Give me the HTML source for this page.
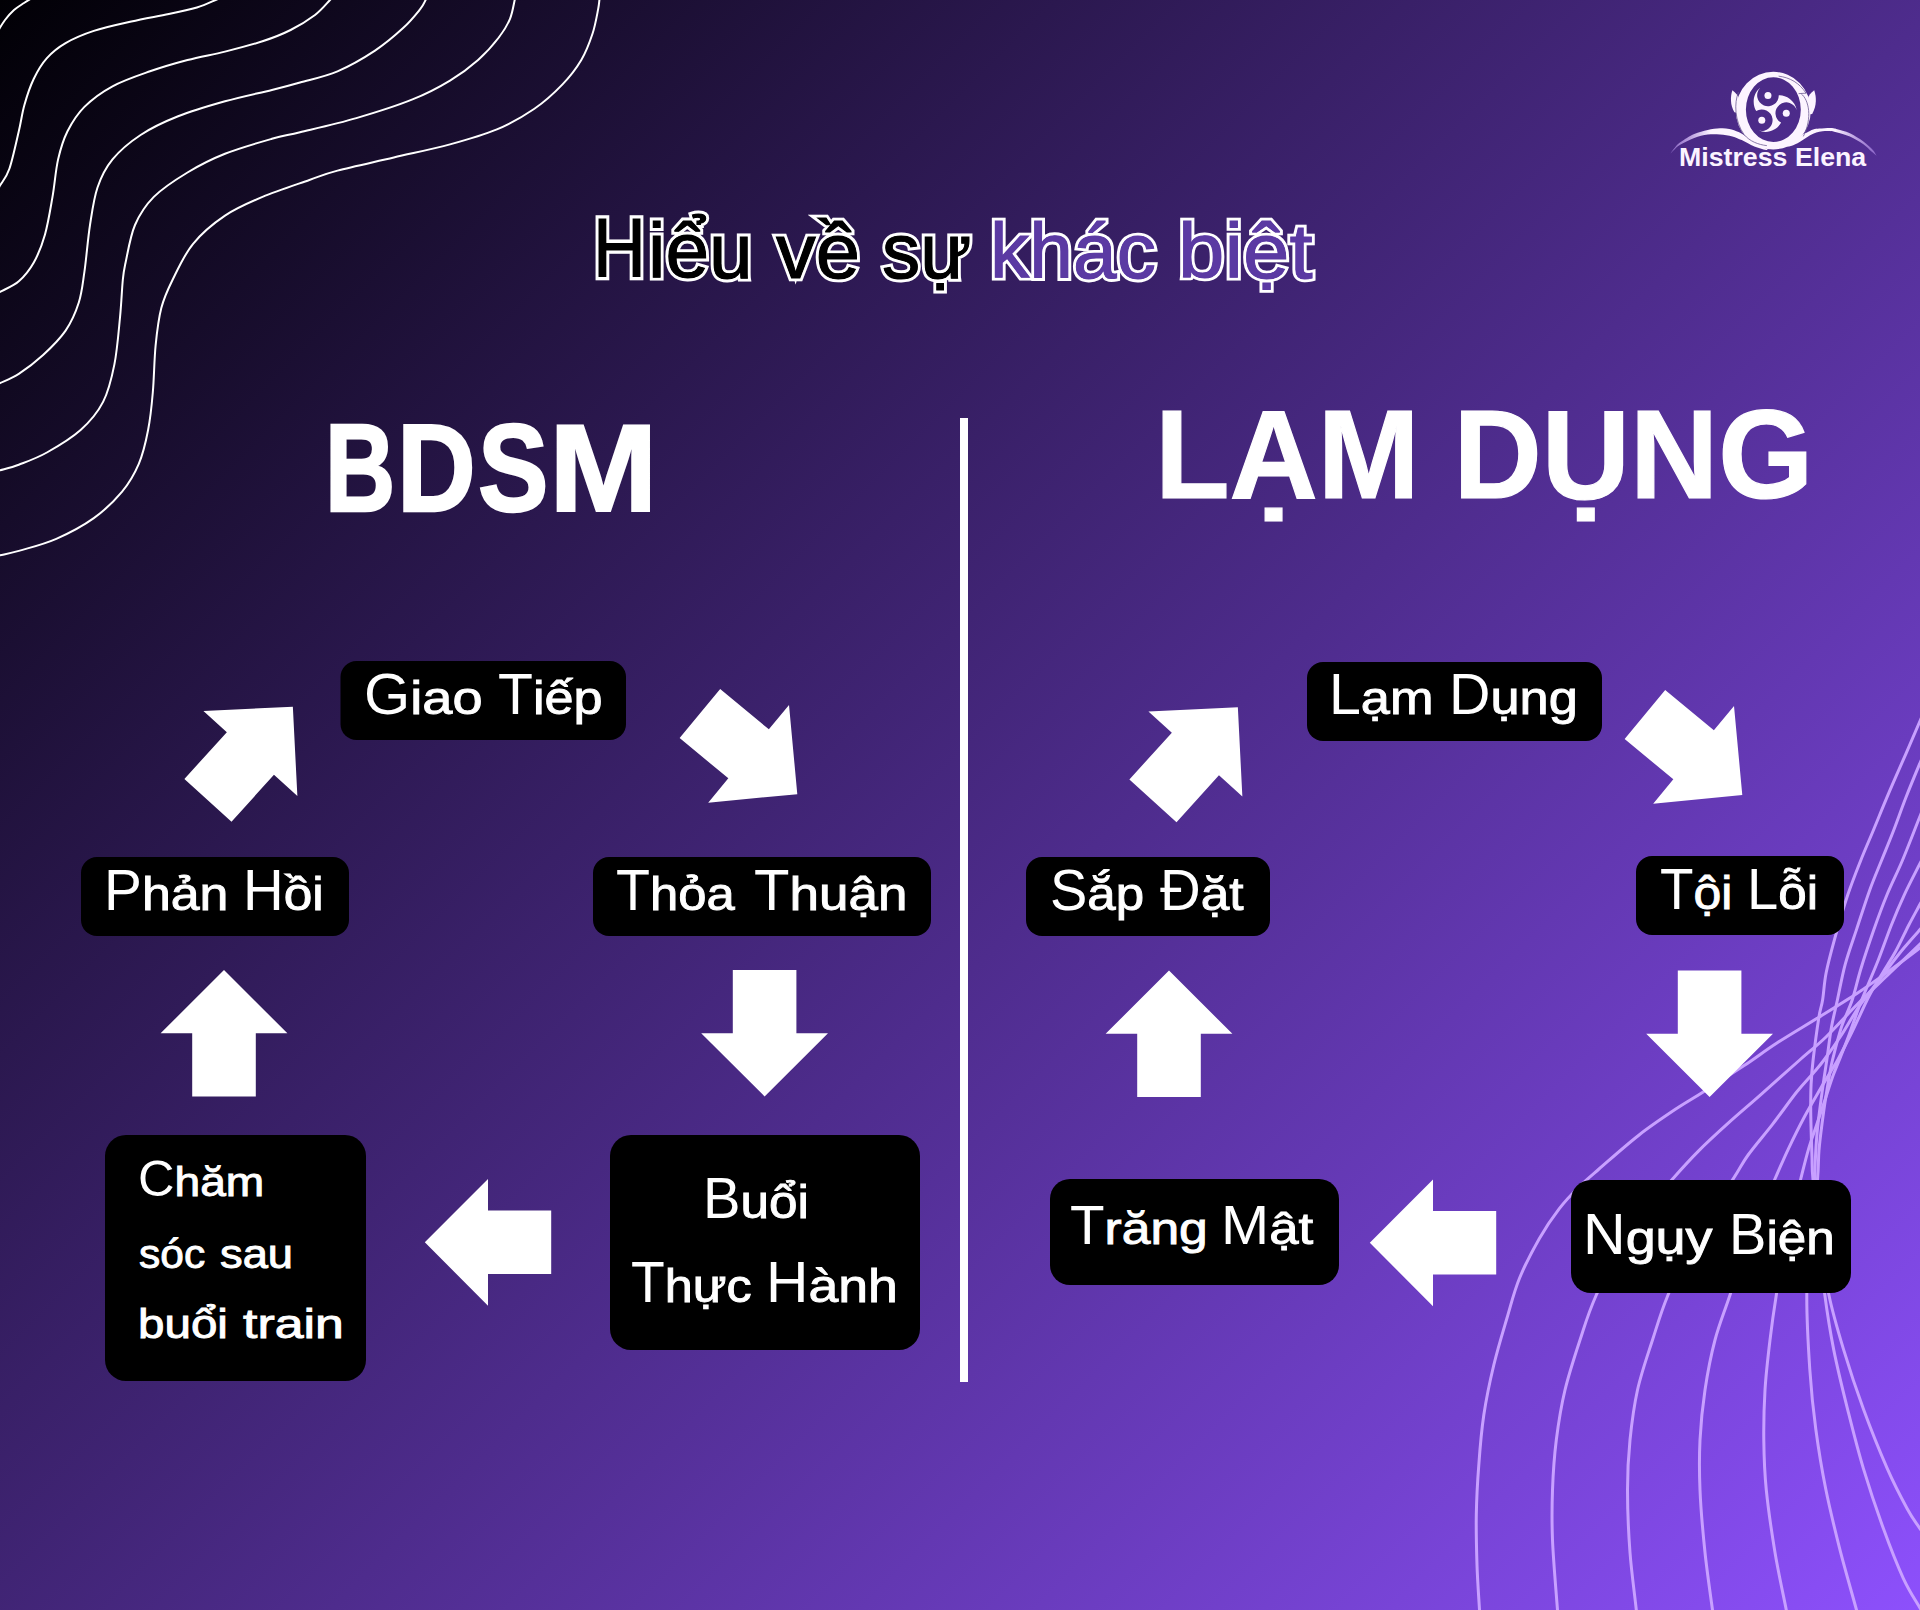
<!DOCTYPE html>
<html lang="vi"><head><meta charset="utf-8"><title>Hiểu về sự khác biệt</title>
<style>
html,body{margin:0;padding:0}
html{background:#2a1650}
body{width:1920px;height:1610px;overflow:hidden;position:relative;font-family:"Liberation Sans",sans-serif}
.canvas{position:absolute;left:0;top:0;width:1920px;height:1610px;overflow:hidden;background:linear-gradient(135deg,#010005 0%,#8d50fc 100%)}
svg{position:absolute;left:0;top:0}
.t{position:absolute;white-space:nowrap;color:#fff;transform-origin:0 0;font-family:"Liberation Sans",sans-serif}
.ub{display:inline-block;vertical-align:baseline}
.ui{display:inline-block;transform-origin:0 0}
.ttl{paint-order:stroke fill}
</style></head><body>
<main class="canvas">
<svg width="1920" height="1610" viewBox="0 0 1920 1610">
<g fill="none" stroke="#fff" stroke-width="2">
<path d="M-2.0,31.0 C-0.8,29.2 2.3,23.5 5.0,20.0 C7.7,16.5 10.8,12.8 14.0,10.0 C17.2,7.2 21.0,5.0 24.0,3.0 C27.0,1.0 30.7,-1.2 32.0,-2.0"/>
<path d="M-3.0,191.0 C-2.5,190.1 -2.1,189.3 0.0,185.6 C2.1,181.9 6.3,177.9 9.4,168.8 C12.5,159.8 16.3,141.9 18.8,131.3 C21.3,120.7 21.9,113.8 24.4,105.0 C26.9,96.2 30.0,86.6 33.8,78.8 C37.5,71.0 41.6,64.0 46.9,58.1 C52.2,52.2 57.8,47.6 65.6,43.1 C73.4,38.6 82.8,34.5 93.8,30.9 C104.8,27.3 118.8,24.4 131.3,21.6 C143.8,18.8 157.9,16.4 168.8,14.1 C179.7,11.8 189.1,9.8 196.9,7.5 C204.7,5.2 211.8,1.6 215.6,0.0 C219.4,-1.6 219.3,-1.7 220.0,-2.0"/>
<path d="M-3.0,294.0 C-2.5,293.7 -3.6,294.1 0.0,292.0 C3.6,289.9 13.2,286.2 18.8,281.3 C24.4,276.4 29.4,270.3 33.8,262.5 C38.2,254.7 41.9,245.3 45.0,234.4 C48.1,223.5 50.3,209.4 52.5,196.9 C54.7,184.4 55.6,170.3 58.1,159.4 C60.6,148.5 63.1,140.1 67.5,131.3 C71.9,122.6 76.9,114.4 84.4,106.9 C91.9,99.4 101.6,92.2 112.5,86.3 C123.4,80.4 137.5,75.7 150.0,71.3 C162.5,66.9 175.0,63.3 187.5,60.0 C200.0,56.7 212.5,54.7 225.0,51.6 C237.5,48.5 251.6,44.9 262.5,41.3 C273.4,37.7 281.9,34.4 290.6,30.0 C299.4,25.6 308.4,20.0 315.0,15.0 C321.6,10.0 327.2,2.8 330.0,0.0 C332.8,-2.8 331.7,-1.7 332.0,-2.0"/>
<path d="M-3.0,384.5 C-2.5,384.3 -3.6,384.9 0.0,383.1 C3.6,381.3 11.6,378.5 18.8,373.8 C26.0,369.1 35.3,362.2 43.1,355.0 C50.9,347.8 59.6,339.4 65.6,330.6 C71.5,321.9 75.7,312.3 78.8,302.5 C81.9,292.7 82.5,284.8 84.4,271.9 C86.3,259.0 87.8,239.1 90.0,225.0 C92.2,210.9 93.8,198.4 97.5,187.5 C101.2,176.6 105.3,168.2 112.5,159.4 C119.7,150.7 129.7,142.2 140.6,135.0 C151.5,127.8 164.0,121.9 178.1,116.3 C192.2,110.7 209.4,105.7 225.0,101.3 C240.6,96.9 259.4,93.1 271.9,90.0 C284.4,86.9 289.1,85.6 300.0,82.5 C310.9,79.4 325.0,76.6 337.5,71.3 C350.0,66.0 364.1,57.8 375.0,50.6 C385.9,43.4 395.6,35.0 403.1,28.1 C410.6,21.2 416.2,14.1 420.0,9.4 C423.8,4.7 424.4,2.1 425.6,0.0 C426.8,-2.1 426.8,-2.5 427.0,-3.0"/>
<path d="M-3.0,471.0 C-2.5,470.9 -3.6,471.4 0.0,470.3 C3.6,469.2 11.0,467.7 18.8,464.7 C26.6,461.7 36.6,458.3 46.9,452.5 C57.2,446.7 71.2,438.4 80.6,430.0 C90.0,421.6 97.5,412.8 103.1,401.9 C108.7,391.0 111.6,378.5 114.4,364.4 C117.2,350.3 118.6,331.6 120.0,317.5 C121.4,303.4 121.9,289.2 122.8,280.0 C123.7,270.8 123.6,271.7 125.6,262.5 C127.6,253.3 130.3,235.9 135.0,225.0 C139.7,214.1 145.1,205.7 153.8,196.9 C162.6,188.2 175.6,179.7 187.5,172.5 C199.4,165.3 210.9,159.4 225.0,153.8 C239.1,148.2 259.4,142.4 271.9,138.8 C284.4,135.2 285.9,135.6 300.0,132.2 C314.1,128.8 337.6,123.6 356.3,118.1 C375.1,112.6 396.9,105.7 412.5,99.4 C428.1,93.2 439.1,87.2 450.0,80.6 C460.9,74.0 470.0,67.2 478.1,60.0 C486.2,52.8 493.5,44.4 498.8,37.5 C504.1,30.6 507.4,25.1 510.0,18.8 C512.6,12.6 513.8,3.6 514.7,0.0 C515.6,-3.6 515.4,-2.5 515.5,-3.0"/>
<path d="M-3.0,556.0 C-2.5,555.9 -3.6,556.1 0.0,555.3 C3.6,554.4 9.4,553.6 18.8,550.9 C28.2,548.1 43.8,544.3 56.3,538.8 C68.8,533.3 82.9,525.9 93.8,518.1 C104.7,510.3 114.4,500.9 121.9,491.9 C129.4,482.8 134.4,474.1 138.8,463.8 C143.2,453.5 145.8,441.9 148.1,430.0 C150.4,418.1 151.6,406.6 152.8,392.5 C154.1,378.4 154.2,359.7 155.6,345.6 C157.0,331.5 158.5,319.0 161.3,308.1 C164.1,297.2 167.2,290.7 172.5,280.0 C177.8,269.3 184.3,254.5 193.1,243.8 C201.8,233.1 213.4,223.4 225.0,215.6 C236.6,207.8 248.4,202.8 262.5,196.9 C276.6,191.0 296.9,184.4 309.4,180.0 C321.9,175.6 323.4,174.3 337.5,170.6 C351.6,166.8 375.1,161.9 393.8,157.5 C412.6,153.1 432.8,149.1 450.0,144.4 C467.2,139.7 482.8,135.3 496.9,129.4 C511.0,123.5 523.5,116.3 534.4,108.8 C545.3,101.3 554.7,92.5 562.5,84.4 C570.3,76.3 576.3,68.4 581.3,60.0 C586.3,51.6 589.7,42.2 592.5,33.8 C595.3,25.4 597.0,15.0 598.1,9.4 C599.2,3.8 599.1,2.1 599.4,0.0 C599.6,-2.1 599.6,-2.5 599.6,-3.0"/>
</g>
<g fill="none" stroke="#c8a0ff" stroke-width="3">
<path d="M1480.5,1630.0 C1480.3,1626.7 1480.1,1620.8 1479.5,1610.0 C1478.9,1599.2 1477.5,1580.8 1477.0,1565.0 C1476.5,1549.2 1476.0,1531.7 1476.3,1515.0 C1476.6,1498.3 1477.5,1481.7 1478.8,1465.0 C1480.0,1448.3 1481.3,1431.7 1483.8,1415.0 C1486.3,1398.3 1489.9,1381.2 1493.8,1365.0 C1497.7,1348.8 1502.7,1332.5 1507.0,1318.0 C1511.3,1303.5 1514.1,1291.5 1519.5,1278.3 C1524.9,1265.0 1532.8,1250.1 1539.4,1238.5 C1546.0,1226.9 1552.7,1217.3 1559.3,1208.7 C1565.9,1200.1 1572.5,1193.4 1579.1,1186.8 C1585.7,1180.2 1589.0,1177.6 1599.0,1169.0 C1609.0,1160.4 1625.5,1145.5 1638.8,1135.2 C1652.0,1124.9 1667.9,1114.4 1678.5,1107.3 C1689.1,1100.2 1691.5,1099.4 1702.4,1092.4 C1713.3,1085.5 1731.7,1073.8 1744.1,1065.6 C1756.5,1057.4 1764.4,1051.1 1776.9,1043.0 C1789.4,1034.9 1805.5,1025.5 1818.9,1017.2 C1832.4,1008.9 1845.8,1000.8 1857.6,993.0 C1869.4,985.2 1879.5,977.9 1889.9,970.4 C1900.3,962.9 1912.5,953.5 1920.0,947.8 C1927.5,942.1 1932.5,938.0 1935.0,936.0"/>
<path d="M1559.0,1630.0 C1558.8,1626.7 1558.6,1625.0 1557.5,1610.0 C1556.4,1595.0 1553.3,1560.0 1552.5,1540.0 C1551.7,1520.0 1551.9,1506.7 1552.5,1490.0 C1553.1,1473.3 1554.2,1456.7 1556.3,1440.0 C1558.4,1423.3 1561.0,1406.7 1565.0,1390.0 C1569.0,1373.3 1574.8,1355.8 1580.0,1340.0 C1585.2,1324.2 1588.0,1313.7 1596.3,1295.0 C1604.6,1276.3 1617.3,1247.3 1630.0,1228.0 C1642.7,1208.7 1661.2,1191.7 1672.6,1178.9 C1684.0,1166.1 1689.1,1160.4 1698.4,1151.1 C1707.7,1141.8 1717.9,1132.5 1728.2,1123.2 C1738.5,1113.9 1748.1,1105.9 1760.0,1095.4 C1771.9,1084.9 1788.7,1069.7 1799.7,1060.0 C1810.7,1050.3 1816.3,1046.3 1826.0,1037.0 C1835.7,1027.7 1846.9,1014.7 1857.6,1004.0 C1868.2,993.3 1879.5,983.0 1889.9,973.0 C1900.3,963.0 1912.5,951.3 1920.0,944.0 C1927.5,936.7 1932.5,931.5 1935.0,929.0"/>
<path d="M1638.0,1630.0 C1637.7,1626.7 1637.6,1622.9 1636.3,1610.0 C1635.0,1597.1 1631.5,1572.5 1630.0,1552.5 C1628.5,1532.5 1627.5,1508.8 1627.5,1490.0 C1627.5,1471.2 1628.3,1456.7 1630.0,1440.0 C1631.7,1423.3 1633.8,1406.7 1637.5,1390.0 C1641.2,1373.3 1647.4,1355.8 1652.5,1340.0 C1657.6,1324.2 1660.8,1312.5 1668.0,1295.0 C1675.2,1277.5 1685.1,1254.3 1696.0,1235.0 C1706.9,1215.7 1724.5,1192.2 1733.2,1178.9 C1741.9,1165.6 1741.6,1164.0 1748.1,1155.0 C1754.6,1146.0 1764.2,1135.0 1772.3,1124.6 C1780.4,1114.1 1789.8,1100.8 1796.5,1092.3 C1803.2,1083.8 1808.1,1079.1 1812.7,1073.7 C1817.3,1068.3 1819.2,1066.5 1824.0,1060.0 C1828.8,1053.5 1835.8,1043.7 1841.5,1035.0 C1847.2,1026.3 1852.8,1015.8 1858.0,1008.0 C1863.2,1000.2 1867.8,994.8 1873.0,988.0 C1878.2,981.2 1883.8,973.8 1889.0,967.0 C1894.2,960.2 1899.1,953.7 1904.3,947.5 C1909.5,941.3 1915.0,935.2 1920.0,929.6 C1925.0,924.0 1931.7,916.6 1934.0,914.0"/>
<path d="M1715.0,1630.0 C1714.6,1626.7 1714.2,1622.9 1712.5,1610.0 C1710.8,1597.1 1707.1,1572.5 1705.0,1552.5 C1702.9,1532.5 1700.8,1508.8 1700.0,1490.0 C1699.2,1471.2 1699.2,1456.7 1700.0,1440.0 C1700.8,1423.3 1702.5,1406.7 1705.0,1390.0 C1707.5,1373.3 1710.8,1355.8 1715.0,1340.0 C1719.2,1324.2 1724.2,1312.5 1730.0,1295.0 C1735.8,1277.5 1742.5,1254.2 1750.0,1235.0 C1757.5,1215.8 1768.3,1193.9 1774.7,1179.5 C1781.1,1165.1 1783.4,1159.3 1788.4,1148.8 C1793.4,1138.3 1799.2,1126.6 1804.6,1116.5 C1810.0,1106.4 1816.0,1096.4 1820.7,1088.3 C1825.4,1080.2 1830.1,1072.8 1832.9,1068.1 C1835.7,1063.4 1834.5,1066.0 1837.7,1060.0 C1840.9,1054.0 1846.7,1042.8 1852.0,1032.0 C1857.3,1021.2 1864.5,1004.8 1869.6,995.0 C1874.7,985.2 1878.2,980.3 1882.6,973.0 C1886.9,965.7 1891.3,959.3 1895.7,951.3 C1900.1,943.3 1904.7,933.0 1908.7,925.2 C1912.8,917.4 1916.1,911.5 1920.0,904.3 C1923.9,897.1 1930.0,885.7 1932.0,882.0"/>
<path d="M1790.0,1630.0 C1789.4,1626.7 1788.8,1622.9 1786.3,1610.0 C1783.8,1597.1 1778.3,1572.5 1775.0,1552.5 C1771.7,1532.5 1768.2,1508.8 1766.3,1490.0 C1764.4,1471.2 1764.0,1456.7 1763.8,1440.0 C1763.6,1423.3 1764.0,1406.7 1765.0,1390.0 C1766.0,1373.3 1768.1,1355.8 1770.0,1340.0 C1771.9,1324.2 1773.5,1312.5 1776.3,1295.0 C1779.1,1277.5 1783.0,1254.2 1787.0,1235.0 C1791.0,1215.8 1797.0,1193.9 1800.6,1179.5 C1804.2,1165.1 1805.9,1158.0 1808.6,1148.8 C1811.3,1139.6 1814.0,1132.7 1816.7,1124.6 C1819.4,1116.5 1822.1,1108.5 1824.8,1100.4 C1827.5,1092.3 1830.5,1082.8 1832.9,1076.1 C1835.3,1069.4 1836.6,1066.8 1839.3,1060.0 C1842.0,1053.2 1845.3,1045.0 1849.0,1035.0 C1852.7,1025.0 1856.8,1012.5 1861.7,1000.0 C1866.6,987.5 1873.4,972.5 1878.3,960.0 C1883.2,947.5 1887.0,936.1 1891.3,925.2 C1895.6,914.3 1899.5,905.1 1904.3,894.8 C1909.1,884.5 1915.4,872.6 1920.0,863.5 C1924.6,854.4 1930.0,843.9 1932.0,840.0"/>
<path d="M1861.0,1630.0 C1860.2,1626.7 1860.1,1623.6 1856.5,1610.0 C1852.9,1596.4 1844.7,1568.6 1839.6,1548.4 C1834.5,1528.2 1829.7,1508.7 1825.7,1488.8 C1821.7,1468.9 1818.5,1449.1 1815.8,1429.2 C1813.1,1409.3 1811.3,1392.0 1809.8,1369.5 C1808.3,1347.0 1806.6,1316.4 1806.8,1294.0 C1807.0,1271.6 1809.2,1254.1 1811.0,1235.0 C1812.8,1215.9 1816.2,1193.7 1817.5,1179.5 C1818.8,1165.3 1818.2,1159.2 1819.0,1150.0 C1819.8,1140.8 1820.9,1132.5 1822.0,1124.0 C1823.1,1115.5 1824.2,1107.2 1825.5,1099.0 C1826.8,1090.8 1828.3,1081.5 1829.5,1075.0 C1830.7,1068.5 1830.5,1068.0 1832.5,1060.0 C1834.5,1052.0 1838.2,1036.9 1841.5,1026.9 C1844.8,1016.9 1849.0,1009.7 1852.2,1000.0 C1855.4,990.3 1857.3,980.4 1860.9,968.7 C1864.5,957.0 1869.6,941.9 1873.9,929.6 C1878.2,917.3 1882.2,906.4 1887.0,894.8 C1891.8,883.2 1897.1,873.1 1902.6,860.0 C1908.1,846.9 1915.1,828.5 1920.0,816.3 C1924.9,804.1 1930.0,791.9 1932.0,787.0"/>
<path d="M1935.0,1632.0 C1932.5,1628.0 1925.3,1617.0 1920.0,1608.0 C1914.7,1599.0 1909.4,1591.5 1903.3,1578.3 C1897.2,1565.1 1890.0,1546.8 1883.4,1528.6 C1876.8,1510.4 1869.5,1488.8 1863.5,1468.9 C1857.5,1449.0 1852.6,1429.2 1847.6,1409.3 C1842.6,1389.4 1837.5,1368.8 1833.7,1349.6 C1829.9,1330.4 1827.2,1313.1 1824.7,1294.0 C1822.2,1274.9 1820.1,1254.1 1818.5,1235.0 C1816.9,1215.9 1815.6,1192.5 1815.1,1179.5 C1814.6,1166.5 1815.2,1164.7 1815.5,1156.9 C1815.8,1149.1 1816.4,1140.8 1817.1,1132.7 C1817.8,1124.6 1818.9,1116.5 1819.9,1108.4 C1820.9,1100.3 1822.1,1092.3 1823.2,1084.2 C1824.3,1076.1 1825.4,1069.5 1826.8,1060.0 C1828.2,1050.5 1829.7,1037.0 1831.5,1027.0 C1833.3,1017.0 1835.1,1010.5 1837.4,1000.0 C1839.7,989.5 1842.0,976.0 1845.2,964.3 C1848.4,952.6 1852.4,941.9 1856.5,929.6 C1860.6,917.3 1865.4,902.0 1869.6,890.4 C1873.8,878.8 1877.8,869.7 1881.7,860.0 C1885.6,850.3 1888.9,842.5 1893.0,832.0 C1897.1,821.5 1901.6,808.5 1906.1,797.0 C1910.6,785.5 1915.7,773.3 1920.0,763.0 C1924.3,752.7 1930.0,739.7 1932.0,735.0"/>
<path d="M1935.0,1550.0 C1932.5,1546.4 1924.6,1535.5 1920.0,1528.6 C1915.4,1521.7 1912.6,1518.7 1907.2,1508.7 C1901.8,1498.8 1894.7,1485.5 1887.4,1468.9 C1880.1,1452.3 1870.8,1429.2 1863.5,1409.3 C1856.2,1389.4 1849.4,1368.8 1843.6,1349.6 C1837.8,1330.4 1832.6,1313.1 1828.7,1294.0 C1824.8,1274.9 1822.6,1254.1 1820.0,1235.0 C1817.4,1215.9 1814.3,1192.5 1813.0,1179.5 C1811.7,1166.5 1812.3,1164.7 1812.0,1156.9 C1811.7,1149.1 1811.4,1140.8 1811.2,1132.7 C1811.0,1124.6 1810.7,1116.5 1810.7,1108.4 C1810.7,1100.3 1810.7,1092.3 1811.1,1084.2 C1811.5,1076.1 1811.8,1071.2 1813.1,1060.0 C1814.4,1048.8 1817.3,1027.2 1818.9,1017.2 C1820.5,1007.2 1821.4,1007.4 1822.6,1000.0 C1823.8,992.6 1824.1,983.3 1826.1,973.0 C1828.1,962.7 1831.2,951.3 1834.8,938.3 C1838.4,925.3 1843.4,907.8 1847.8,894.8 C1852.2,881.8 1856.6,870.9 1860.9,860.0 C1865.2,849.1 1869.0,840.8 1873.8,829.2 C1878.6,817.6 1884.5,803.0 1889.9,790.4 C1895.3,777.8 1901.1,764.9 1906.1,753.3 C1911.1,741.7 1915.7,731.0 1920.0,721.0 C1924.3,711.0 1930.0,697.7 1932.0,693.0"/>
</g>
<rect x="960" y="418" width="8" height="964" fill="#fff"/>
<g fill="#000">
<rect x="340.5" y="661" width="285.5" height="79" rx="16"/>
<rect x="81" y="857" width="268" height="79" rx="16"/>
<rect x="593" y="857" width="338" height="79" rx="16"/>
<rect x="105" y="1135" width="261" height="246" rx="21"/>
<rect x="610" y="1135" width="310" height="215" rx="21"/>
<rect x="1307" y="662" width="295" height="79" rx="16"/>
<rect x="1026" y="857" width="244" height="79" rx="16"/>
<rect x="1636" y="856" width="208" height="79" rx="16"/>
<rect x="1050" y="1179" width="289" height="106" rx="20"/>
<rect x="1571" y="1180" width="280" height="113" rx="20"/>
</g>
<g fill="#fff">
<polygon points="0,-63.2 63.4,0 31.8,0 31.8,63.2 -31.8,63.2 -31.8,0 -63.4,0" transform="translate(250.4,753.5) rotate(42.2)"/>
<polygon points="0,-63.2 63.4,0 31.8,0 31.8,63.2 -31.8,63.2 -31.8,0 -63.4,0" transform="translate(748.6,753.85) rotate(129.6)"/>
<polygon points="0,-63.2 63.4,0 31.8,0 31.8,63.2 -31.8,63.2 -31.8,0 -63.4,0" transform="translate(764.6,1033.2) rotate(180)"/>
<polygon points="0,-63.2 63.4,0 31.8,0 31.8,63.2 -31.8,63.2 -31.8,0 -63.4,0" transform="translate(488,1242.3) rotate(270)"/>
<polygon points="0,-63.2 63.4,0 31.8,0 31.8,63.2 -31.8,63.2 -31.8,0 -63.4,0" transform="translate(224,1033.3) rotate(0)"/>
<polygon points="0,-63.2 63.4,0 31.8,0 31.8,63.2 -31.8,63.2 -31.8,0 -63.4,0" transform="translate(1195.4,754) rotate(42.2)"/>
<polygon points="0,-63.2 63.4,0 31.8,0 31.8,63.2 -31.8,63.2 -31.8,0 -63.4,0" transform="translate(1693.6,754.8) rotate(129.6)"/>
<polygon points="0,-63.2 63.4,0 31.8,0 31.8,63.2 -31.8,63.2 -31.8,0 -63.4,0" transform="translate(1709.6,1033.7) rotate(180)"/>
<polygon points="0,-63.2 63.4,0 31.8,0 31.8,63.2 -31.8,63.2 -31.8,0 -63.4,0" transform="translate(1433,1242.8) rotate(270)"/>
<polygon points="0,-63.2 63.4,0 31.8,0 31.8,63.2 -31.8,63.2 -31.8,0 -63.4,0" transform="translate(1169,1033.8) rotate(0)"/>
</g>
<!-- logo -->
<g id="logo">
<!--LOGO_EXTRA-->
<defs><linearGradient id="gl" gradientUnits="userSpaceOnUse" x1="1668" y1="0" x2="1745" y2="0"><stop offset="0" stop-color="#b58cf0" stop-opacity="0.55"/><stop offset="0.55" stop-color="#fcf4ff"/><stop offset="1" stop-color="#fcf4ff"/></linearGradient><linearGradient id="gr" gradientUnits="userSpaceOnUse" x1="1800" y1="0" x2="1878" y2="0"><stop offset="0" stop-color="#fcf4ff"/><stop offset="0.45" stop-color="#fcf4ff"/><stop offset="1" stop-color="#b58cf0" stop-opacity="0.55"/></linearGradient></defs>
<path d="M1670.5,153.4 C1671.2,152.4 1673.3,149.4 1675.0,147.5 C1676.7,145.6 1677.4,144.3 1680.6,142.1 C1683.8,139.8 1689.7,136.0 1694.2,134.0 C1698.7,132.0 1703.4,130.8 1707.7,129.9 C1712.0,129.0 1716.4,128.5 1720.0,128.3 C1723.6,128.1 1726.2,128.3 1729.3,128.9 C1732.4,129.5 1735.8,130.8 1738.6,132.0 C1741.4,133.2 1743.2,134.9 1746.1,136.4 C1749.0,137.9 1754.3,140.2 1756.0,141.0 L1768.0,150.0 C1767.2,149.9 1765.3,149.8 1763.5,149.4 C1761.7,149.0 1759.4,148.3 1757.3,147.6 C1755.2,146.9 1753.6,146.3 1751.0,145.1 C1748.4,143.8 1744.8,141.5 1741.7,140.1 C1738.6,138.7 1736.0,137.3 1732.4,136.4 C1728.8,135.5 1724.1,134.8 1720.0,134.5 C1715.9,134.2 1712.0,134.0 1707.7,134.6 C1703.4,135.2 1698.7,136.3 1694.2,138.0 C1689.7,139.7 1683.8,142.8 1680.6,144.6 C1677.4,146.4 1676.7,147.5 1675.0,149.0 C1673.3,150.5 1671.2,152.7 1670.5,153.4 Z" fill="url(#gl)"/>
<path d="M1786.0,142.0 C1787.8,141.4 1794.2,139.8 1797.0,138.5 C1799.8,137.2 1801.3,135.0 1803.0,134.0 C1804.7,133.0 1805.3,133.2 1807.0,132.5 C1808.7,131.8 1811.1,130.2 1813.2,129.6 C1815.3,128.9 1816.6,128.9 1819.4,128.6 C1822.2,128.3 1827.2,128.0 1830.0,128.0 C1832.8,128.1 1833.0,128.0 1836.3,128.9 C1839.6,129.8 1845.4,131.1 1849.9,133.2 C1854.4,135.3 1859.6,138.7 1863.4,141.5 C1867.2,144.3 1870.7,147.6 1872.9,150.0 C1875.1,152.4 1875.9,154.8 1876.5,155.8 L1876.5,155.8 C1875.7,155.1 1873.7,153.4 1871.5,151.5 C1869.3,149.6 1867.0,146.7 1863.4,144.2 C1859.8,141.7 1854.4,138.5 1849.9,136.5 C1845.4,134.5 1839.6,133.1 1836.3,132.2 C1833.0,131.3 1832.3,131.2 1830.0,131.0 C1827.7,130.8 1824.8,130.9 1822.5,131.2 C1820.2,131.5 1818.4,131.9 1816.3,132.6 C1814.2,133.3 1812.2,134.2 1810.1,135.3 C1808.0,136.4 1806.0,138.0 1803.9,139.3 C1801.8,140.6 1799.9,142.0 1797.6,143.2 C1795.3,144.3 1792.3,145.7 1790.0,146.2 C1787.7,146.7 1785.0,146.0 1784.0,146.0 Z" fill="url(#gr)"/>
<path d="M1732.4,90.2 C1730.2,97 1730.2,105 1734.4,112.2 L1738.5,113 L1739,99 C1738,95.5 1735.8,92.6 1732.4,90.2 Z" fill="#fcf4ff"/>
<path d="M1814.2,90.2 C1816.6,97 1816.8,105.5 1812.2,114 L1808,114.5 L1807.6,99 C1808.6,95.5 1810.8,92.6 1814.2,90.2 Z" fill="#fcf4ff"/>
<path fill-rule="evenodd" fill="#fcf4ff" d="M1735.8,110.6 a37.5,38.8 0 1 0 75,0 a37.5,38.8 0 1 0 -75,0 Z M1745.9,109.6 a27.45,32.3 0 1 0 54.9,0 a27.45,32.3 0 1 0 -54.9,0 Z"/>
<g fill="none" stroke="#6d5c93" stroke-width="0.8" stroke-linecap="round"><path d="M1738.3,92.5 C1734,103 1734.6,121 1744,134.5 C1750,141.5 1758,144.5 1766.5,145.6"/><path d="M1779,76.2 C1790,77.5 1799.5,83 1806,93.2 L1799,93.6"/><path d="M1801.5,94 C1809,100 1812.5,118 1803.5,136"/></g>
<path d="M1760.31,87.83 C1751.54,94.47 1752.90,106.73 1756.23,110.92 A10.8,10.8 0 1 1 1758.99,130.61 C1769.13,134.89 1779.07,127.57 1781.03,122.60 A10.8,10.8 0 1 1 1796.70,110.36 C1795.33,99.44 1784.03,94.49 1778.75,95.28 A10.8,10.8 0 1 1 1760.31,87.83 Z" fill="#fcf4ff"/>
<circle cx="1767.95" cy="95.47" r="3.5" fill="#fcf4ff"/>
<circle cx="1786.26" cy="113.16" r="3.5" fill="#fcf4ff"/>
<circle cx="1761.79" cy="120.17" r="3.5" fill="#fcf4ff"/>
</g>
</svg>
<div class="t ttl" aria-hidden="true" style="left:593.00px;top:207.44px;font-size:83px;line-height:83px;color:#000;transform:scaleX(0.8833);-webkit-text-stroke:7.70px #fff;font-weight:normal">H</div>
<div class="t" style="left:593.00px;top:207.44px;font-size:83px;line-height:83px;color:#000;transform:scaleX(0.8833);-webkit-text-stroke:1.13px #000;font-weight:normal">H</div>
<div class="t ttl" aria-hidden="true" style="left:647.57px;top:211.67px;font-size:78px;line-height:78px;color:#000;transform:scaleX(1.0062);-webkit-text-stroke:6.76px #fff;font-weight:normal">iểu</div>
<div class="t" style="left:647.57px;top:211.67px;font-size:78px;line-height:78px;color:#000;transform:scaleX(1.0062);-webkit-text-stroke:0.99px #000;font-weight:normal">iểu</div>
<div class="t ttl" aria-hidden="true" style="left:775.90px;top:211.67px;font-size:78px;line-height:78px;color:#000;transform:scaleX(1.0215);-webkit-text-stroke:6.66px #fff;font-weight:normal">về</div>
<div class="t" style="left:775.90px;top:211.67px;font-size:78px;line-height:78px;color:#000;transform:scaleX(1.0215);-webkit-text-stroke:0.98px #000;font-weight:normal">về</div>
<div class="t ttl" aria-hidden="true" style="left:881.84px;top:211.67px;font-size:78px;line-height:78px;color:#000;transform:scaleX(0.9782);-webkit-text-stroke:6.95px #fff;font-weight:normal">sự</div>
<div class="t" style="left:881.84px;top:211.67px;font-size:78px;line-height:78px;color:#000;transform:scaleX(0.9782);-webkit-text-stroke:1.02px #000;font-weight:normal">sự</div>
<div class="t ttl" aria-hidden="true" style="left:990.36px;top:211.67px;font-size:78px;line-height:78px;color:#5b3aa3;transform:scaleX(1.0072);-webkit-text-stroke:6.75px #fff;font-weight:normal">khác</div>
<div class="t" style="left:990.36px;top:211.67px;font-size:78px;line-height:78px;color:#5b3aa3;transform:scaleX(1.0072);-webkit-text-stroke:0.99px #5b3aa3;font-weight:normal">khác</div>
<div class="t ttl" aria-hidden="true" style="left:1178.35px;top:211.67px;font-size:78px;line-height:78px;color:#5b3aa3;transform:scaleX(1.0703);-webkit-text-stroke:6.35px #fff;font-weight:normal">biệt</div>
<div class="t" style="left:1178.35px;top:211.67px;font-size:78px;line-height:78px;color:#5b3aa3;transform:scaleX(1.0703);-webkit-text-stroke:0.93px #5b3aa3;font-weight:normal">biệt</div>
<div class="t" style="left:363.63px;top:666.40px;font-size:57.3px;line-height:57.3px;transform:scaleX(1.1781)"><span class="ub" style="width:39.22px;font-size:57.3px"><span class="ui" style="transform:scaleX(0.88)">G</span></span><span style="font-size:46.028px;-webkit-text-stroke:0.9px #fff">iao</span></div>
<div class="t" style="left:497.90px;top:666.40px;font-size:57.3px;line-height:57.3px;transform:scaleX(1.1345)"><span class="ub" style="width:30.80px;font-size:57.3px"><span class="ui" style="transform:scaleX(0.88)">T</span></span><span style="font-size:46.028px;-webkit-text-stroke:0.9px #fff">iếp</span></div>
<div class="t" style="left:103.53px;top:861.70px;font-size:57.3px;line-height:57.3px;transform:scaleX(1.1266)"><span class="ub" style="width:33.63px;font-size:57.3px"><span class="ui" style="transform:scaleX(0.88)">P</span></span><span style="font-size:46.028px;-webkit-text-stroke:0.9px #fff">hản</span></div>
<div class="t" style="left:243.07px;top:861.70px;font-size:57.3px;line-height:57.3px;transform:scaleX(1.1176)"><span class="ub" style="width:36.41px;font-size:57.3px"><span class="ui" style="transform:scaleX(0.88)">H</span></span><span style="font-size:46.028px;-webkit-text-stroke:0.9px #fff">ồi</span></div>
<div class="t" style="left:616.23px;top:861.70px;font-size:57.3px;line-height:57.3px;transform:scaleX(1.1036)"><span class="ub" style="width:30.80px;font-size:57.3px"><span class="ui" style="transform:scaleX(0.88)">T</span></span><span style="font-size:46.028px;-webkit-text-stroke:0.9px #fff">hỏa</span></div>
<div class="t" style="left:754.19px;top:861.70px;font-size:57.3px;line-height:57.3px;transform:scaleX(1.1519)"><span class="ub" style="width:30.80px;font-size:57.3px"><span class="ui" style="transform:scaleX(0.88)">T</span></span><span style="font-size:46.028px;-webkit-text-stroke:0.9px #fff">huận</span></div>
<div class="t" style="left:137.98px;top:1153.97px;font-size:50px;line-height:50px;transform:scaleX(1.1497)"><span class="ub" style="width:31.78px;font-size:50px"><span class="ui" style="transform:scaleX(0.88)">C</span></span><span style="font-size:40.164px;-webkit-text-stroke:0.9px #fff">hăm</span></div>
<div class="t" style="left:138.94px;top:1225.97px;font-size:50px;line-height:50px;transform:scaleX(1.0584)"><span style="font-size:40.164px;-webkit-text-stroke:0.9px #fff">sóc</span></div>
<div class="t" style="left:220.27px;top:1225.97px;font-size:50px;line-height:50px;transform:scaleX(1.1285)"><span style="font-size:40.164px;-webkit-text-stroke:0.9px #fff">sau</span></div>
<div class="t" style="left:138.23px;top:1296.47px;font-size:50px;line-height:50px;transform:scaleX(1.1847)"><span style="font-size:40.164px;-webkit-text-stroke:0.9px #fff">buổi</span></div>
<div class="t" style="left:243.00px;top:1296.47px;font-size:50px;line-height:50px;transform:scaleX(1.2905)"><span style="font-size:40.164px;-webkit-text-stroke:0.9px #fff">train</span></div>
<div class="t" style="left:703.37px;top:1170.00px;font-size:57.3px;line-height:57.3px;transform:scaleX(1.1154)"><span class="ub" style="width:33.63px;font-size:57.3px"><span class="ui" style="transform:scaleX(0.88)">B</span></span><span style="font-size:46.028px;-webkit-text-stroke:0.9px #fff">uổi</span></div>
<div class="t" style="left:630.84px;top:1254.00px;font-size:57.3px;line-height:57.3px;transform:scaleX(1.0950)"><span class="ub" style="width:30.80px;font-size:57.3px"><span class="ui" style="transform:scaleX(0.88)">T</span></span><span style="font-size:46.028px;-webkit-text-stroke:0.9px #fff">hực</span></div>
<div class="t" style="left:766.40px;top:1254.00px;font-size:57.3px;line-height:57.3px;transform:scaleX(1.1655)"><span class="ub" style="width:36.41px;font-size:57.3px"><span class="ui" style="transform:scaleX(0.88)">H</span></span><span style="font-size:46.028px;-webkit-text-stroke:0.9px #fff">ành</span></div>
<div class="t" style="left:1329.40px;top:666.40px;font-size:57.3px;line-height:57.3px;transform:scaleX(1.1369)"><span class="ub" style="width:28.04px;font-size:57.3px"><span class="ui" style="transform:scaleX(0.88)">L</span></span><span style="font-size:46.028px;-webkit-text-stroke:0.9px #fff">ạm</span></div>
<div class="t" style="left:1449.20px;top:666.40px;font-size:57.3px;line-height:57.3px;transform:scaleX(1.1375)"><span class="ub" style="width:36.41px;font-size:57.3px"><span class="ui" style="transform:scaleX(0.88)">D</span></span><span style="font-size:46.028px;-webkit-text-stroke:0.9px #fff">ụng</span></div>
<div class="t" style="left:1049.65px;top:862.00px;font-size:57.3px;line-height:57.3px;transform:scaleX(1.1097)"><span class="ub" style="width:33.63px;font-size:57.3px"><span class="ui" style="transform:scaleX(0.88)">S</span></span><span style="font-size:46.028px;-webkit-text-stroke:0.9px #fff">ắp</span></div>
<div class="t" style="left:1160.20px;top:862.00px;font-size:57.3px;line-height:57.3px;transform:scaleX(1.1173)"><span class="ub" style="width:36.41px;font-size:57.3px"><span class="ui" style="transform:scaleX(0.88)">Đ</span></span><span style="font-size:46.028px;-webkit-text-stroke:0.9px #fff">ặt</span></div>
<div class="t" style="left:1660.04px;top:861.00px;font-size:57.3px;line-height:57.3px;transform:scaleX(1.0864)"><span class="ub" style="width:30.80px;font-size:57.3px"><span class="ui" style="transform:scaleX(0.88)">T</span></span><span style="font-size:46.028px;-webkit-text-stroke:0.9px #fff">ội</span></div>
<div class="t" style="left:1747.38px;top:861.00px;font-size:57.3px;line-height:57.3px;transform:scaleX(1.1133)"><span class="ub" style="width:28.04px;font-size:57.3px"><span class="ui" style="transform:scaleX(0.88)">L</span></span><span style="font-size:46.028px;-webkit-text-stroke:0.9px #fff">ỗi</span></div>
<div class="t" style="left:1069.67px;top:1197.84px;font-size:55px;line-height:55px;transform:scaleX(1.1683)"><span class="ub" style="width:29.56px;font-size:55px"><span class="ui" style="transform:scaleX(0.88)">T</span></span><span style="font-size:44.18px;-webkit-text-stroke:0.9px #fff">răng</span></div>
<div class="t" style="left:1220.90px;top:1197.84px;font-size:55px;line-height:55px;transform:scaleX(1.1940)"><span class="ub" style="width:40.32px;font-size:55px"><span class="ui" style="transform:scaleX(0.88)">M</span></span><span style="font-size:44.18px;-webkit-text-stroke:0.9px #fff">ật</span></div>
<div class="t" style="left:1582.88px;top:1205.70px;font-size:57.3px;line-height:57.3px;transform:scaleX(1.1711)"><span class="ub" style="width:36.41px;font-size:57.3px"><span class="ui" style="transform:scaleX(0.88)">N</span></span><span style="font-size:46.028px;-webkit-text-stroke:0.9px #fff">gụy</span></div>
<div class="t" style="left:1729.09px;top:1205.70px;font-size:57.3px;line-height:57.3px;transform:scaleX(1.1122)"><span class="ub" style="width:33.63px;font-size:57.3px"><span class="ui" style="transform:scaleX(0.88)">B</span></span><span style="font-size:46.028px;-webkit-text-stroke:0.9px #fff">iện</span></div>
<div class="t" style="left:324.58px;top:405.19px;font-size:125px;line-height:125px;font-weight:bold;-webkit-text-stroke:2.57px #fff;transform:scaleX(0.7779)">B</div>
<div class="t" style="left:396.53px;top:405.19px;font-size:125px;line-height:125px;font-weight:bold;-webkit-text-stroke:2.29px #fff;transform:scaleX(0.8718)">D</div>
<div class="t" style="left:478.07px;top:405.19px;font-size:125px;line-height:125px;font-weight:bold;-webkit-text-stroke:2.37px #fff;transform:scaleX(0.8447)">S</div>
<div class="t" style="left:549.35px;top:405.19px;font-size:125px;line-height:125px;font-weight:bold;-webkit-text-stroke:1.92px #fff;transform:scaleX(1.0443)">M</div>
<div class="t" style="left:1154.84px;top:392.04px;font-size:126px;line-height:126px;font-weight:bold;-webkit-text-stroke:1.24px #fff;transform:scaleX(0.9694)">LẠM DỤNG</div>
<div class="t" style="left:1678.95px;top:145.41px;font-size:25.5px;line-height:25.5px;font-weight:bold;color:#fbf3ff;transform:scaleX(1.0482)">Mistress Elena</div>
</main>
</body></html>
